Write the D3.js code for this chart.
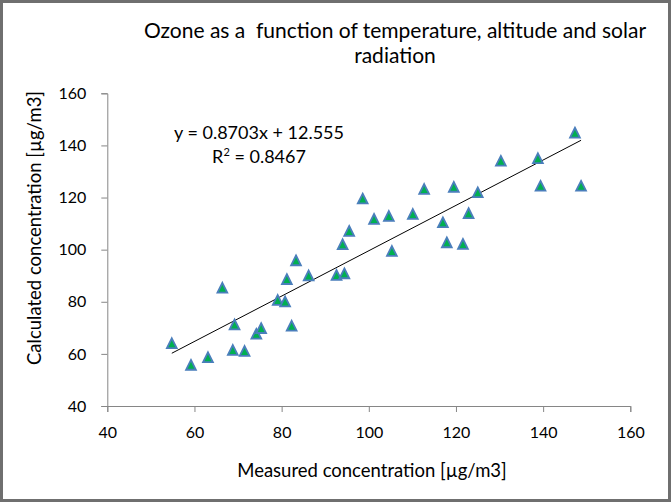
<!DOCTYPE html>
<html>
<head>
<meta charset="utf-8">
<script src="https://cdn.jsdelivr.net/npm/d3@7"></script>
<style>
  body { margin: 0; background: #fff; }
  text { font-family: Lato, 'Open Sans', sans-serif; fill: #000; }
  .axis path, .axis line { stroke: #868686; }
</style>
</head>
<body>
<svg id="chart" width="671" height="502"></svg>
<script>
const measured = [54.8, 59.2, 63.1, 66.4, 68.8, 69.2, 71.5, 74.2, 75.3, 79.1, 80.8, 81.2,
  82.3, 83.3, 86.2, 92.6, 94.4, 94.0, 95.5, 98.6, 101.2, 104.6, 105.3, 110.1,
  112.7, 117.0, 117.9, 119.5, 121.6, 122.9, 125.0, 130.3, 138.8, 139.4, 147.3, 148.7];
const calculated = [64.1, 55.8, 58.7, 85.4, 61.5, 71.3, 61.1, 67.7, 69.9, 80.7, 80.1, 88.7,
  70.8, 95.9, 90.1, 90.3, 90.9, 102.1, 107.2, 119.6, 111.8, 112.9, 99.5, 113.7,
  123.3, 110.5, 102.8, 124.1, 102.2, 114.0, 122.0, 134.1, 135.1, 124.5, 144.9, 124.5];
const xTicks = [40, 60, 80, 100, 120, 140, 160];
const yTicks = [40, 60, 80, 100, 120, 140, 160];
const trend = { slope: 0.8703, intercept: 12.555 };
const rSquared = 0.8467;
const titleLines = ['Ozone as a  function of temperature, altitude and solar', 'radiation'];

const width = 671;
const height = 502;
const margin = { top: 93.3, right: 40.7, bottom: 96, left: 107.3 };
const innerW = width - margin.left - margin.right;
const innerH = height - margin.top - margin.bottom;

const svg = d3.select('#chart');

svg.append('rect')
  .attr('x', 1.5).attr('y', 1.5)
  .attr('width', width - 3).attr('height', height - 3)
  .attr('fill', '#fff')
  .attr('stroke', '#6f6f6f')
  .attr('stroke-width', 3);

const x = d3.scaleLinear([40, 160], [0, innerW]);
const y = d3.scaleLinear([40, 160], [innerH, 0]);

const g = svg.append('g').attr('transform', `translate(${margin.left},${margin.top})`);

g.append('g')
  .attr('class', 'axis')
  .attr('transform', `translate(0,${innerH})`)
  .call(d3.axisBottom(x).tickValues(xTicks).tickSize(6).tickPadding(15).tickSizeOuter(6))
  .call((a) => a.selectAll('text').attr('font-size', 16).attr('font-family', null));

g.append('g')
  .attr('class', 'axis')
  .call(d3.axisLeft(y).tickValues(yTicks).tickSize(6).tickPadding(15).tickSizeOuter(6))
  .call((a) => a.selectAll('text').attr('font-size', 16).attr('font-family', null));

g.selectAll('.axis .domain').attr('stroke', '#868686');

// trendline over the range of measured values
const xr = d3.extent(measured);
g.append('path')
  .attr('d', d3.line()(xr.map((v) => [x(v), y(trend.slope * v + trend.intercept)])))
  .attr('stroke', '#000')
  .attr('stroke-width', 1)
  .attr('fill', 'none');

const triangle = {
  draw(ctx, size) {
    const w = Math.sqrt(size);
    ctx.moveTo(0, -w / 2);
    ctx.lineTo(w / 2, w / 2);
    ctx.lineTo(-w / 2, w / 2);
    ctx.closePath();
  },
};

g.selectAll('.pt')
  .data(measured.map((m, i) => [m, calculated[i]]))
  .join('path')
  .attr('class', 'pt')
  .attr('transform', (d) => `translate(${x(d[0])},${y(d[1])})`)
  .attr('d', d3.symbol(triangle, 96))
  .attr('fill', '#00B050')
  .attr('stroke', '#4A7EBB')
  .attr('stroke-width', 1.8)
  .attr('stroke-linejoin', 'miter');

svg.selectAll('.title')
  .data(titleLines)
  .join('text')
  .attr('class', 'title')
  .attr('x', 395)
  .attr('y', (d, i) => 38 + i * 25)
  .attr('text-anchor', 'middle')
  .attr('font-size', 21)
  .style('white-space', 'pre')
  .text((d) => d);

svg.append('text')
  .attr('x', 372)
  .attr('y', 477)
  .attr('text-anchor', 'middle')
  .attr('font-size', 18.5)
  .text('Measured concentration [µg/m3]');

svg.append('text')
  .attr('transform', `translate(41,228) rotate(-90)`)
  .attr('text-anchor', 'middle')
  .attr('font-size', 18.5)
  .text('Calculated concentration [µg/m3]');

const eq = svg.append('text')
  .attr('x', 259)
  .attr('text-anchor', 'middle')
  .attr('font-size', 18);
eq.append('tspan').attr('x', 259).attr('y', 139)
  .text(`y = ${trend.slope}x + ${trend.intercept}`);
const r2 = eq.append('tspan').attr('x', 259).attr('y', 163).text('R');
r2.append('tspan').attr('font-size', 11).attr('dy', -7).text('2');
eq.append('tspan').attr('dy', 7).text(` = ${rSquared}`);
</script>
</body>
</html>
